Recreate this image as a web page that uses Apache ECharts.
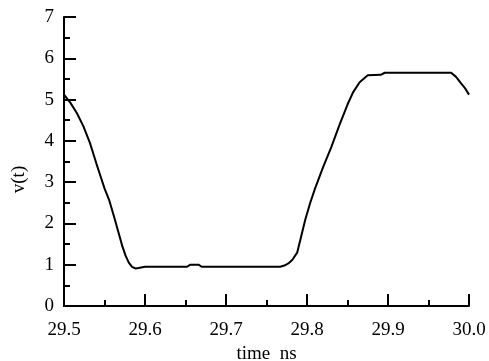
<!DOCTYPE html>
<html>
<head>
<meta charset="utf-8">
<script src="https://cdn.jsdelivr.net/npm/echarts@6/dist/echarts.min.js"></script>
<style>
  html, body { margin: 0; padding: 0; background: #fff; }
  #chart { width: 489px; height: 361px; }
</style>
</head>
<body>
<div id="chart"></div>
<script>
// time in ns, voltage in V
const timeNs = [
  29.500, 29.508, 29.516, 29.524, 29.532, 29.540, 29.545, 29.550, 29.556, 29.562,
  29.567, 29.572, 29.576, 29.580, 29.584, 29.588, 29.592, 29.600, 29.652, 29.656,
  29.666, 29.670, 29.767, 29.772, 29.777, 29.782, 29.788, 29.793, 29.798, 29.804,
  29.810, 29.820, 29.830, 29.840, 29.850, 29.857, 29.865, 29.875, 29.891, 29.896,
  29.978, 29.984, 29.990, 29.995, 30.000
]
const voltage = [
  5.12, 4.92, 4.67, 4.35, 3.95, 3.45, 3.15, 2.85, 2.55, 2.15,
  1.80, 1.45, 1.22, 1.05, 0.95, 0.91, 0.92, 0.95, 0.95, 1.00,
  1.00, 0.95, 0.95, 0.98, 1.03, 1.12, 1.30, 1.70, 2.10, 2.50,
  2.85, 3.37, 3.85, 4.38, 4.88, 5.18, 5.42, 5.59, 5.60, 5.65,
  5.65, 5.55, 5.40, 5.28, 5.12
]
const xTicks = [29.5, 29.6, 29.7, 29.8, 29.9, 30.0]

const font = 'Liberation Serif'
const chart = echarts.init(document.getElementById('chart'))

chart.setOption({
  animation: false,
  backgroundColor: '#fff',
  grid: {
    left: 64,
    right: 20,
    top: 17,
    bottom: 55,
    containLabel: false,
    outerBoundsMode: 'none'
  },
  xAxis: {
    type: 'value',
    min: xTicks[0],
    max: xTicks[xTicks.length - 1],
    interval: 0.1,
    name: 'time  ns',
    nameLocation: 'middle',
    nameGap: 38,
    nameTextStyle: { fontFamily: font, fontSize: 19, color: '#000' },
    axisLine: { lineStyle: { color: '#000', width: 2 } },
    axisTick: { inside: true, length: 12, lineStyle: { color: '#000', width: 2 } },
    minorTick: { show: true, splitNumber: 2, length: 6, lineStyle: { color: '#000', width: 2 } },
    splitLine: { show: false },
    axisLabel: {
      margin: 15,
      fontFamily: font,
      fontSize: 19,
      color: '#000',
      formatter: v => v.toFixed(1)
    }
  },
  yAxis: {
    type: 'value',
    min: 0,
    max: 7,
    interval: 1,
    name: 'v(t)',
    nameLocation: 'middle',
    nameGap: 35,
    nameTextStyle: { fontFamily: font, fontSize: 19, color: '#000', padding: [0, 36, 0, 0] },
    axisLine: { show: true, lineStyle: { color: '#000', width: 2 } },
    axisTick: { show: true, inside: true, length: 12, lineStyle: { color: '#000', width: 2 } },
    minorTick: { show: true, splitNumber: 2, length: 6, lineStyle: { color: '#000', width: 2 } },
    splitLine: { show: false },
    axisLabel: {
      margin: 10,
      fontFamily: font,
      fontSize: 19,
      color: '#000'
    }
  },
  series: [{
    type: 'line',
    data: timeNs.map((t, i) => [t, voltage[i]]),
    showSymbol: false,
    lineStyle: { color: '#000', width: 2 },
    clip: false
  }]
})
</script>
</body>
</html>
